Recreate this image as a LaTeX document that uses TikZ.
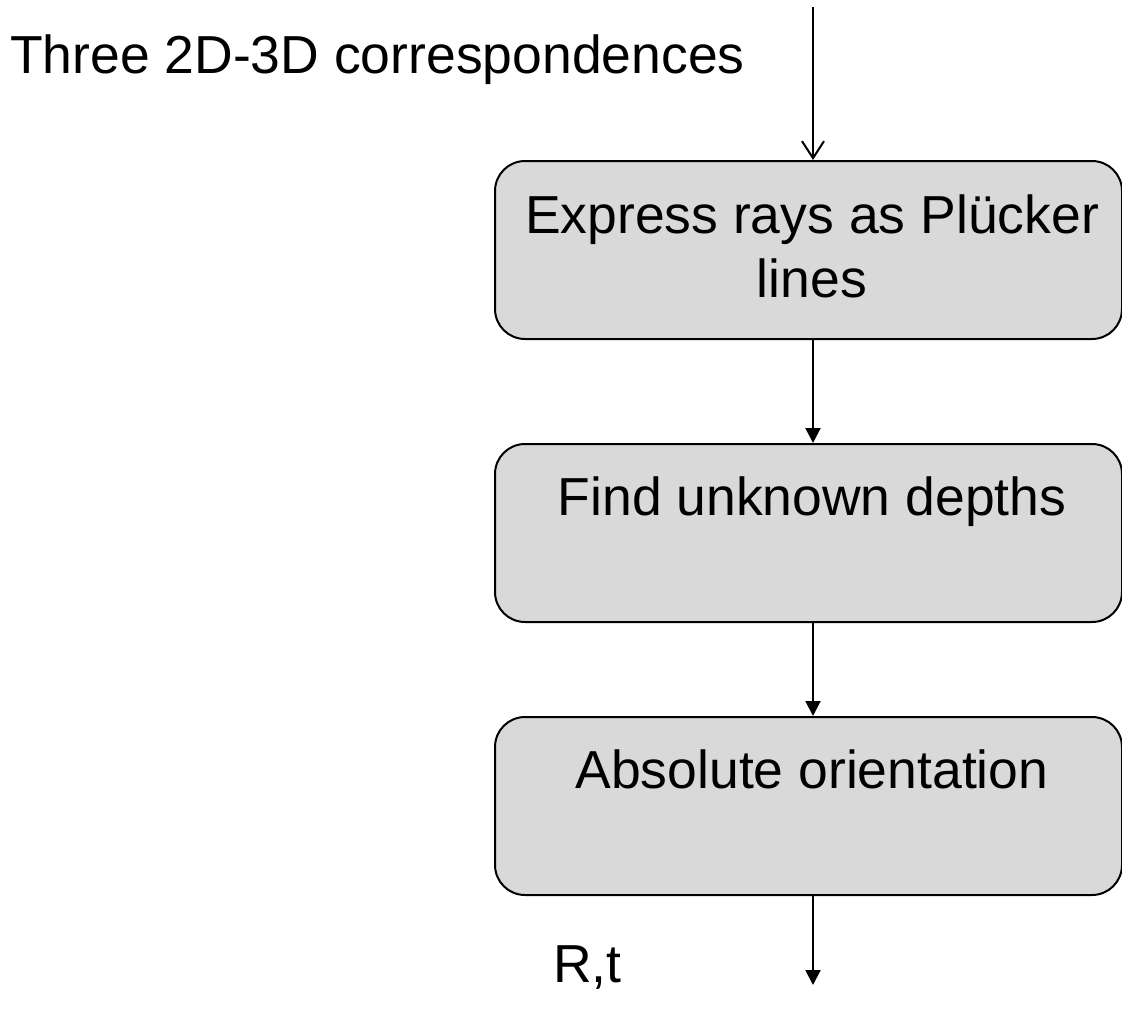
\documentclass[tikz,border=0pt]{standalone}
\usepackage{fontspec}
\setmainfont{Liberation Sans}
\usetikzlibrary{arrows.meta}
\definecolor{boxgray}{HTML}{D9D9D9}
\tikzset{
  x=1pt, y=-1pt,
  procbox/.style={draw=black, line width=2pt, fill=boxgray, rounded corners=30pt,
    minimum width=627pt, minimum height=178pt, inner sep=0pt, anchor=north west},
  lbl/.style={font=\fontsize{53.5}{64}\selectfont, inner sep=0pt, anchor=base},
  flow/.style={line width=2pt, -{Triangle[length=15pt,width=15pt]}},
  openflow/.style={line width=2pt, -{Straight Barb[length=17pt,width=22pt,line width=2pt]}}
}
\begin{document}
\begin{tikzpicture}
\useasboundingbox (0,0) rectangle (1122,1012);
\node[procbox] (b1) at (494,160) {};
\node[procbox] (b2) at (494,443) {};
\node[procbox] (b3) at (494,716) {};
\node[lbl] (t1a) at (812,233) {Express rays as Plücker};
\node[lbl] (t1b) at (812,297) {lines};
\node[lbl] (t2) at (812,515) {Find unknown depths};
\node[lbl] (t3) at (812,788) {Absolute orientation};
\node[lbl, anchor=base west] (src) at (10,73) {Three 2D-3D correspondences};
\node[lbl, anchor=base west] (out) at (553,982) {R,t};
\coordinate (top) at (813,7);
\coordinate (bot) at (813,985);
\draw[openflow] (top) -- (top |- b1.north);
\draw[flow] (b1.south -| top) -- (b2.north -| top);
\draw[flow] (b2.south -| top) -- (b3.north -| top);
\draw[flow] (b3.south -| top) -- (bot);
\end{tikzpicture}
\end{document}
